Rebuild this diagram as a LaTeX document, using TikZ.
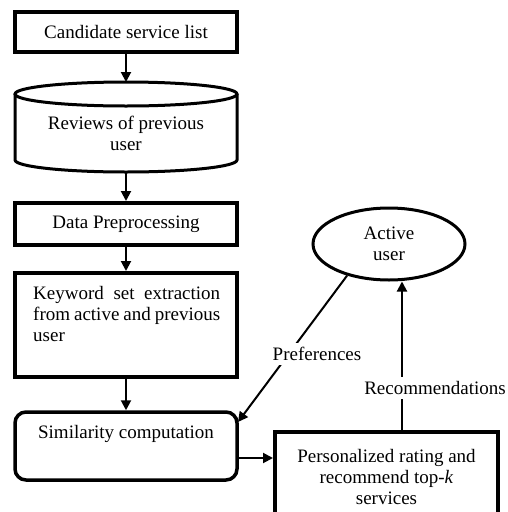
\documentclass[tikz,border=0pt]{standalone}
\usepackage{fontspec}
\setmainfont{Liberation Serif}
\usetikzlibrary{arrows.meta,calc,shapes.geometric}
\begin{document}
\begin{tikzpicture}[x=1pt,y=-1pt,
  every node/.style={font=\fontsize{19}{21}\selectfont},
  box/.style={draw,line width=4pt,rectangle,inner sep=0pt,align=center},
  rbox/.style={draw,line width=3.5pt,rectangle,rounded corners=11pt,inner sep=0pt,align=center},
  arr/.style={line width=2pt,-{Triangle[length=10pt,width=10pt]}},
  lbl/.style={fill=white,inner sep=4pt}
]
\fill[white] (0,0) rectangle (507,512);
\useasboundingbox (0,0) rectangle (507,512);

\node[box,minimum width=222pt,minimum height=40pt] (cand) at (126,32) {Candidate service list};

% cylinder
\node[inner sep=0pt,minimum width=222pt,minimum height=78pt,align=center] (rev) at (126,133)
  {Reviews of previous\\user};
\draw[line width=3pt] (126,94) ellipse [x radius=111pt,y radius=12pt];
\draw[line width=3pt] (15,94) -- (15,160) arc[start angle=180,end angle=360,x radius=111pt,y radius=12pt] -- (237,94);

\node[box,minimum width=222pt,minimum height=42pt] (data) at (126,224) {Data Preprocessing\strut};

\node[box,minimum width=222pt,minimum height=104pt] (kw) at (126,325) {};
\node[anchor=north west,inner sep=0pt,align=left] (kwt) at (33,286)
  {\makebox[187pt][s]{Keyword set extraction}\\\makebox[187pt][s]{from active and previous}\\user};

\node[rbox,minimum width=222pt,minimum height=68pt] (sim) at (126,446) {Similarity computation\\\strut};

\node[box,minimum width=223pt,minimum height=90pt] (pers) at (386.5,477)
  {Personalized rating and\\recommend top-\textit{k}\\services};

\node[draw,ellipse,line width=3pt,inner sep=0pt,minimum width=152pt,minimum height=72pt,align=center] (active) at (389,244)
  {Active\\user};

\draw[arr] (cand.south) -- (126,82);
\draw[arr] (rev.south) -- (data.north);
\draw[arr] (data.south) -- (kw.north);
\draw[arr] (kw.south) -- (sim.north);
\coordinate (s1) at ($(sim.east)+(0,12)$);
\draw[arr] (s1) -- (s1 -| pers.west);

\coordinate (preftip) at (238,422);
\draw[arr] (active.217) -- (preftip);
\node[lbl] (pref) at (317,354) {Preferences};

\coordinate (r0) at ($(pers.north)+(15.5,0)$);
\draw[arr] (r0) -- (r0 |- active.south);
\node[lbl] (rec) at (435,388) {Recommendations};
\end{tikzpicture}
\end{document}
